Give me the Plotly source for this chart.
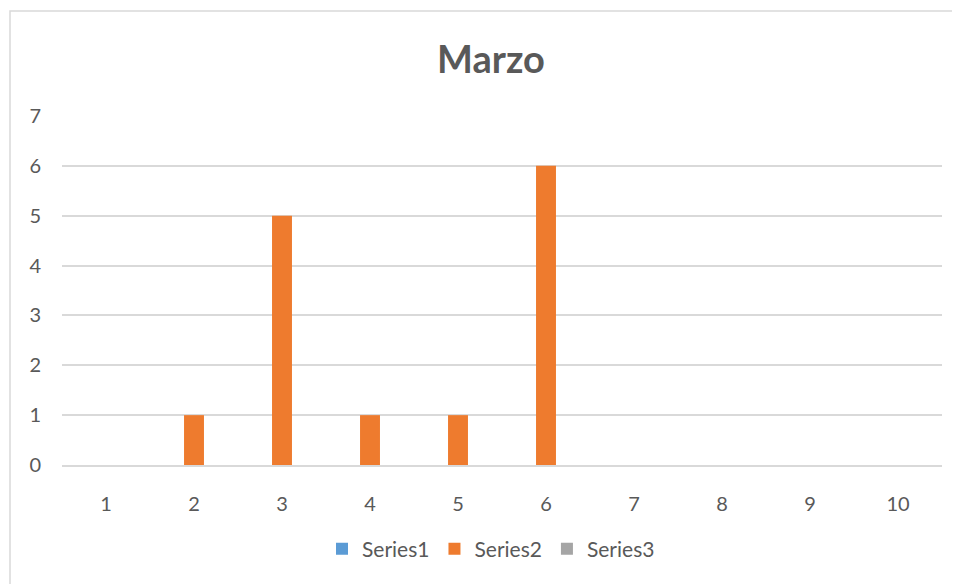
import plotly.graph_objects as go

categories = ["1", "2", "3", "4", "5", "6", "7", "8", "9", "10"]
series1 = [0, 0, 0, 0, 0, 0, 0, 0, 0, 0]
series2 = [0, 1, 5, 1, 1, 6, 0, 0, 0, 0]
series3 = [0, 0, 0, 0, 0, 0, 0, 0, 0, 0]
y_ticks = [0, 1, 2, 3, 4, 5, 6, 7]

# page is rendered with an 8px body margin, so the figure is 8px smaller
OFF = 8
W, H = 960 - OFF, 584 - OFF
L, R, T, B = 62 - OFF, 960 - 942, 116 - OFF, 584 - 465
pw, ph = W - L - R, H - T - B

FONT = "Lato, 'Open Sans', sans-serif"
TXT = "#595959"

fig = go.Figure()
fig.add_trace(go.Bar(name="Series1", x=categories, y=series1, marker=dict(color="#5B9BD5", line=dict(width=0))))
fig.add_trace(go.Bar(name="Series2", x=categories, y=series2, marker=dict(color="#EE7B2E", line=dict(width=0))))
fig.add_trace(go.Bar(name="Series3", x=categories, y=series3, marker=dict(color="#A5A5A5", line=dict(width=0))))


def px2x(p):
    return (p - OFF - L) / pw


def py2y(p):
    return (H - B - (p - OFF)) / ph


fig.update_layout(
    width=W, height=H,
    margin=dict(l=L, r=R, t=T, b=B, autoexpand=False),
    paper_bgcolor="white", plot_bgcolor="white",
    barmode="group", bargap=0.32, bargroupgap=0,
    font=dict(family=FONT, color=TXT, size=20),
    title=dict(text="<b>Marzo</b>", x=(491 - OFF) / W, xref="container", xanchor="center",
               y=1 - (60 - OFF) / H, yref="container", yanchor="middle",
               font=dict(size=38, color=TXT, family=FONT)),
    showlegend=True,
    legend=dict(orientation="h", xref="container", yref="container",
                x=(491 - OFF) / W, xanchor="center", y=1 - (549 - OFF) / H, yanchor="middle",
                font=dict(size=21, color=TXT), traceorder="normal",
                itemwidth=30, bgcolor="rgba(0,0,0,0)"),
    xaxis=dict(type="category", showgrid=False, showline=True, linecolor="#D9D9D9", linewidth=1.5,
               ticks="", tickfont=dict(size=20, color=TXT), ticklabelstandoff=20,
               zeroline=False),
    yaxis=dict(range=[0, 7], tickvals=y_ticks, showgrid=True, gridcolor="#D9D9D9", gridwidth=1.5,
               zeroline=False, showline=False, ticks="", tickfont=dict(size=20, color=TXT),
               ticklabelstandoff=20),
    shapes=[dict(type="rect", xref="paper", yref="paper",
                 x0=px2x(10), x1=px2x(985), y0=py2y(610), y1=py2y(11),
                 line=dict(color="#D9D9D9", width=1.5), fillcolor="rgba(0,0,0,0)", layer="below")],
)

fig.write_html("out.html")
